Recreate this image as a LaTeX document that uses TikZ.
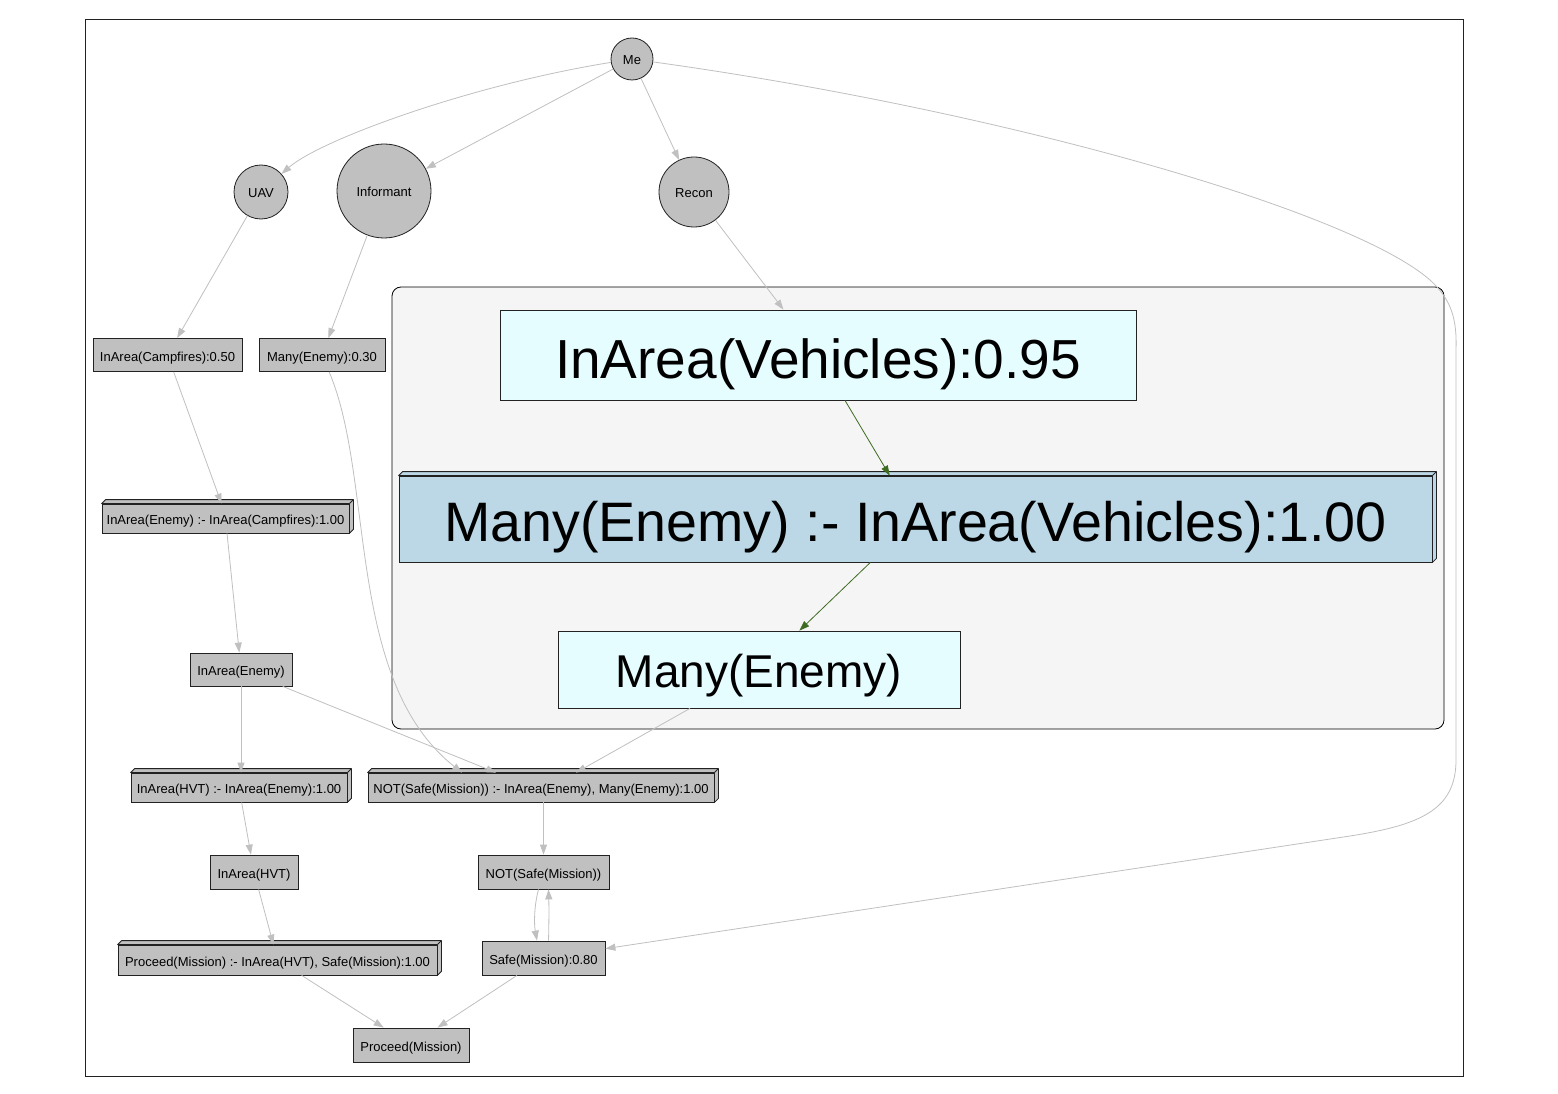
\documentclass[tikz,border=0pt]{standalone}
\usepackage{fontspec}
\setmainfont{Liberation Sans}
\usetikzlibrary{arrows.meta}
\definecolor{edgegray}{HTML}{C0C0C0}
\definecolor{nodegray}{HTML}{C0C0C0}
\definecolor{clusterfill}{HTML}{F5F5F5}
\definecolor{cyanfill}{HTML}{E6FDFF}
\definecolor{rulefill}{HTML}{BCD8E6}
\definecolor{greenedge}{HTML}{3D6B21}
\definecolor{bordercol}{HTML}{222222}
\newcommand\depthbox[2][nodegray]{%
  \filldraw[draw=bordercol, fill=#1, line width=0.8pt, line join=round]
    (#2.north west) -- ([shift={(4,-4)}]#2.north west) -- ([shift={(4,-4)}]#2.north east)
    -- ([shift={(4,-4)}]#2.south east) -- (#2.south east) -- (#2.north east) -- cycle;
  \draw[bordercol, line width=0.8pt] (#2.north east) -- ([shift={(4,-4)}]#2.north east);
}
\begin{document}
\begin{tikzpicture}[x=1pt, y=-1pt,
  font=\fontsize{13}{15}\selectfont,
  every node/.style={text height=12pt, text depth=0pt},
  circ/.style={circle, draw=bordercol, fill=nodegray, line width=0.8pt, inner sep=0pt},
  nbox/.style={rectangle, draw=bordercol, fill=nodegray, line width=0.8pt, inner sep=0pt},
  bignode/.style={rectangle, draw=bordercol, line width=0.8pt, inner sep=0pt},
  edge/.style={draw=edgegray, line width=0.8pt, -{Triangle[length=10pt,width=7pt]}},
  gedge/.style={draw=greenedge, line width=0.8pt, -{Triangle[length=10pt,width=7pt]}}]
\useasboundingbox (0,0) rectangle (1558,1094);
\fill[white] (0,0) rectangle (1558,1094);
% outer frame
\draw[bordercol, line width=0.8pt] (85,19) rectangle (1463,1076);
% cluster
\filldraw[draw=black, fill=clusterfill, line width=0.8pt, rounded corners=9pt] (392,287) rectangle (1444,729);

% circles
\node[circ, minimum size=42] (me) at (632,59) {Me};
\node[circ, minimum size=54] (uav) at (261,192) {UAV};
\node[circ, minimum size=94] (inf) at (384,191) {Informant};
\node[circ, minimum size=70] (recon) at (694,192) {Recon};

% small boxes
\node[nbox, minimum width=149, minimum height=33] (camp) at (167.5,355) {InArea(Campfires):0.50};
\node[nbox, minimum width=126, minimum height=33] (m30) at (322,355) {Many(Enemy):0.30};
\node[nbox, minimum width=247, minimum height=29] (erule) at (225.5,518.5) {InArea(Enemy) :- InArea(Campfires):1.00};
\depthbox{erule}
\node[nbox, minimum width=102, minimum height=33] (ein) at (241,669.5) {InArea(Enemy)};
\node[nbox, minimum width=216, minimum height=29] (hrule) at (239,787.5) {InArea(HVT) :- InArea(Enemy):1.00};
\depthbox{hrule}
\node[nbox, minimum width=346, minimum height=29] (notr) at (541,787.5) {NOT(Safe(Mission)) :- InArea(Enemy), Many(Enemy):1.00};
\depthbox{notr}
\node[nbox, minimum width=88, minimum height=34] (hvt) at (254,872) {InArea(HVT)};
\node[nbox, minimum width=131, minimum height=34] (ns) at (543.5,872) {NOT(Safe(Mission))};
\node[nbox, minimum width=319, minimum height=30] (prule) at (277.5,960) {Proceed(Mission) :- InArea(HVT), Safe(Mission):1.00};
\depthbox{prule}
\node[nbox, minimum width=123, minimum height=34] (safe) at (543.5,958) {Safe(Mission):0.80};
\node[nbox, minimum width=116, minimum height=34] (proc) at (411,1045) {Proceed(Mission)};

% big cluster nodes
\node[bignode, fill=cyanfill, minimum width=636, minimum height=90, text height=46pt, font=\fontsize{55}{60}\selectfont] (veh) at (818,355) {InArea(Vehicles):0.95};
\node[bignode, fill=rulefill, minimum width=1033, minimum height=86, text height=45pt, font=\fontsize{55.6}{60}\selectfont] (mrule) at (915.5,519) {Many(Enemy) :- InArea(Vehicles):1.00};
\depthbox[rulefill]{mrule}
\node[bignode, fill=cyanfill, minimum width=402, minimum height=77, text height=36pt, font=\fontsize{46}{50}\selectfont] (many) at (759,669.5) {Many(Enemy)};

% edges
\draw[edge] (me) .. controls (470,85) and (320,140) .. (uav);
\draw[edge] (me) -- (inf);
\draw[edge] (me) -- (recon);
\draw[edge] (me) .. controls (1000,110) and (1350,210) .. (1430,280)
  .. controls (1452,300) and (1457,320) .. (1456,350) -- (1456,760)
  .. controls (1456,810) and (1420,825) .. (1350,836) -- (safe);
\draw[edge] (uav) -- (camp);
\draw[edge] (inf) -- (m30);
\draw[edge] (recon) -- (veh);
\draw[gedge] (veh) -- (mrule);
\draw[gedge] (mrule) -- (many);
\draw[edge] (many) -- ([xshift=35]notr.north);
\draw[edge] (camp) -- ([xshift=-4]erule.north);
\draw[edge] (erule) -- (ein);
\draw[edge] (ein) -- (ein |- hrule.north);
\draw[edge] (ein) -- ([xshift=-45]notr.north);
\draw[edge] (m30) .. controls (375,480) and (345,680) .. ([xshift=-79]notr.north);
\draw[edge] (hrule) -- (hvt);
\draw[edge] (notr.south -| ns.north) -- (ns.north);
\draw[edge] ([xshift=-5]ns.south) .. controls (534,906) and (534,924) .. ([xshift=-6.5]safe.north);
\draw[edge] ([xshift=5]safe.north) .. controls (549,924) and (549,906) .. ([xshift=5]ns.south);
\draw[edge] (hvt) -- (prule);
\draw[edge] (prule) -- (proc);
\draw[edge] (safe) -- (proc);
\end{tikzpicture}
\end{document}
